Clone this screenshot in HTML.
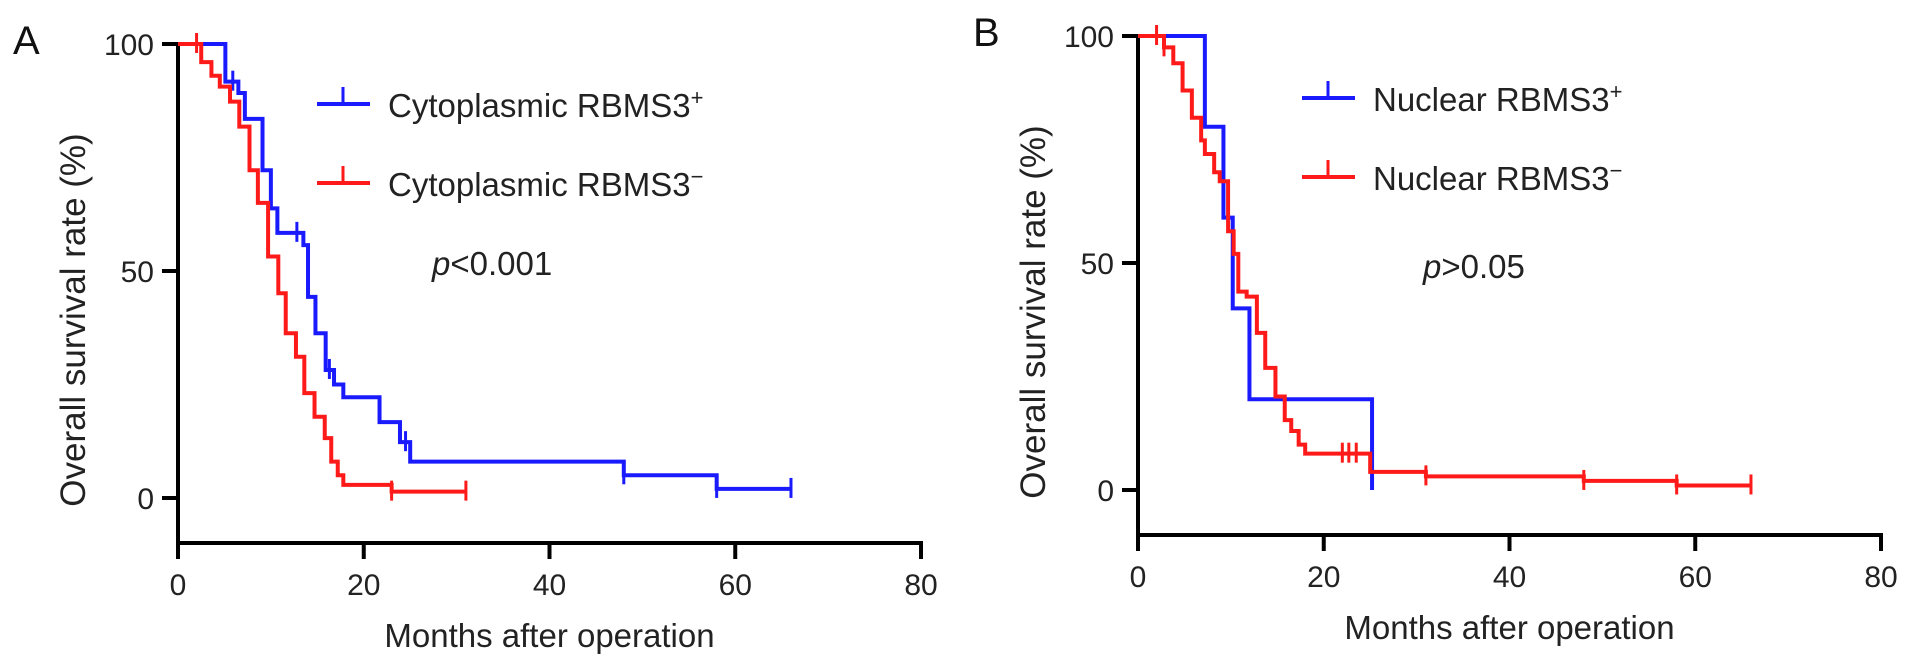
<!DOCTYPE html>
<html><head><meta charset="utf-8"><style>
html,body{margin:0;padding:0;background:#fff;}
svg{display:block;font-family:"Liberation Sans",Arial,sans-serif;}
</style></head><body>
<svg id="fig" width="1913" height="669" viewBox="0 0 1913 669"></svg>
<script>
const xTicks=[0,20,40,60,80];
const yTicks=[0,50,100];
// Panel A
const aBlueTimes=[5.1,6.5,7.2,9.1,10,10.7,13.5,14,14.8,15.9,16.8,17.8,21.7,23.9,25,48,58];
const aBlueVals=[91.7,89.2,83.5,72.2,63.8,58.4,55.7,44.3,36.3,28.2,25,22.2,16.7,12.3,8,5,2];
const aBlueEnd=66;
const aBlueCens=[5.9,12.8,16.3,24.5,48,58,66];
const aRedTimes=[2.5,3.6,4.5,5.6,6.6,7.7,8.6,9.7,10.8,11.6,12.7,13.6,14.7,15.8,16.5,17.2,17.8,23];
const aRedVals=[96,93,90.6,87.3,81.8,72.2,65,53.2,45.1,36.3,31.1,23.1,17.9,13.2,8,5,2.9,1.4];
const aRedEnd=31;
const aRedCens=[2,23,31];
// Panel B
const bBlueTimes=[7.2,9.2,10.2,12,25.2];
const bBlueVals=[80,60,40,20,0];
const bBlueEnd=25.2;
const bBlueCens=[];
const bRedTimes=[2.8,3.8,4.8,5.8,6.8,7.2,8.2,8.8,9.7,10.3,10.8,11.7,12.8,13.7,14.8,15.8,16.5,17.3,18,25,31,48,58];
const bRedVals=[97.5,94,88,82,77,74,70,68,57,52,43.7,42.6,34.6,26.9,20.6,15.4,13,10,8,4,3,2,1];
const bRedEnd=66;
const bRedCens=[2,2.8,22,22.7,23.5,31,48,58,66];

const NS="http://www.w3.org/2000/svg";
const svg=document.getElementById('fig');
function mk(tag,attrs,parent){const e=document.createElementNS(NS,tag);for(const k in attrs)e.setAttribute(k,attrs[k]);(parent||svg).appendChild(e);return e;}

function panel(cfg){
  const g=mk('g',{});
  
  
  const X=v=>cfg.x0+v*(cfg.x1-cfg.x0)/80;
  const Y=v=>cfg.y0+(100-v)*(cfg.yZero-cfg.y0)/100;
  const ya=mk('line',{x1:cfg.x0,y1:cfg.y0-2,x2:cfg.x0,y2:cfg.axisY+2,stroke:'#000','stroke-width':4},g);
  
  const xa=mk('line',{x1:cfg.x0-2,y1:cfg.axisY,x2:cfg.x1+2,y2:cfg.axisY,stroke:'#000','stroke-width':4},g);
  
  xTicks.forEach(t=>{
    mk('line',{x1:X(t),y1:cfg.axisY,x2:X(t),y2:cfg.axisY+16,stroke:'#000','stroke-width':4},g);
    const tx=mk('text',{x:X(t),y:cfg.axisY+52,'text-anchor':'middle','font-size':30,fill:'#222'},g);
    tx.textContent=t;
    
  });
  yTicks.forEach(t=>{
    mk('line',{x1:cfg.x0-16,y1:Y(t),x2:cfg.x0,y2:Y(t),stroke:'#000','stroke-width':4},g);
    const tx=mk('text',{x:cfg.x0-24,y:Y(t)+11,'text-anchor':'end','font-size':30,fill:'#222'},g);
    tx.textContent=t;
    
  });
  const xt=mk('text',{x:(cfg.x0+cfg.x1)/2,y:cfg.axisY+104,'text-anchor':'middle','font-size':33,fill:'#222'},g);
  xt.textContent='Months after operation';
  
  const yc=cfg.y0+276;
  const yt=mk('text',{x:0,y:0,'text-anchor':'middle','font-size':35,fill:'#222',transform:`translate(${cfg.x0-93},${yc}) rotate(-90)`},g);
  yt.textContent='Overall survival rate (%)';
  
  const pl=mk('text',{x:cfg.x0-165,y:cfg.y0+10,'font-size':40,fill:'#111'},g);
  pl.textContent=cfg.letter;
  
  cfg.series.forEach(s=>{
    let d=`M${X(0)},${Y(100)}`;
    s.times.forEach((t,i)=>{d+=` H${X(t)} V${Y(s.vals[i])}`;});
    d+=` H${X(s.end)}`;
    const p=mk('path',{d:d,fill:'none',stroke:s.color,'stroke-width':4},g);
    
    s.cens.forEach(c=>{
      let v=100;s.times.forEach((t,i)=>{if(t<=c)v=s.vals[i];});
      const cl=mk('line',{x1:X(c),y1:Y(v)-11,x2:X(c),y2:Y(v)+9,stroke:s.color,'stroke-width':3},g);
      
    });
  });
  cfg.series.forEach((s,i)=>{
    const ly=cfg.legY+i*79;
    const lg=mk('g',{},g);
    
    mk('line',{x1:cfg.legX,y1:ly,x2:cfg.legX+53,y2:ly,stroke:s.color,'stroke-width':4},lg);
    mk('line',{x1:cfg.legX+26,y1:ly-17,x2:cfg.legX+26,y2:ly,stroke:s.color,'stroke-width':3},lg);
    const t=mk('text',{x:cfg.legX+71,y:ly+13,'font-size':33,fill:'#222'},lg);
    t.innerHTML=s.label+'<tspan dy="-12" font-size="22">'+s.sup+'</tspan>';
  });
  const pt=mk('text',{x:cfg.pX,y:cfg.pY,'font-size':33,fill:'#222'},g);
  pt.innerHTML='<tspan font-style="italic">p</tspan>'+cfg.pText;
  
}

panel({name:'panel-a',letter:'A',x0:178,x1:921,y0:44,yZero:498,axisY:543,legX:317,legY:104,pX:432,pY:275,pText:'&lt;0.001',
  series:[
   {name:'cytoplasmic-positive',color:'#1a1aff',times:aBlueTimes,vals:aBlueVals,end:aBlueEnd,cens:aBlueCens,label:'Cytoplasmic RBMS3',sup:'+'},
   {name:'cytoplasmic-negative',color:'#ff1a1a',times:aRedTimes,vals:aRedVals,end:aRedEnd,cens:aRedCens,label:'Cytoplasmic RBMS3',sup:'−'}]});
panel({name:'panel-b',letter:'B',x0:1138,x1:1881,y0:36,yZero:490,axisY:535,legX:1302,legY:98,pX:1423,pY:278,pText:'&gt;0.05',
  series:[
   {name:'nuclear-positive',color:'#1a1aff',times:bBlueTimes,vals:bBlueVals,end:bBlueEnd,cens:bBlueCens,label:'Nuclear RBMS3',sup:'+'},
   {name:'nuclear-negative',color:'#ff1a1a',times:bRedTimes,vals:bRedVals,end:bRedEnd,cens:bRedCens,label:'Nuclear RBMS3',sup:'−'}]});
</script>
</body></html>
